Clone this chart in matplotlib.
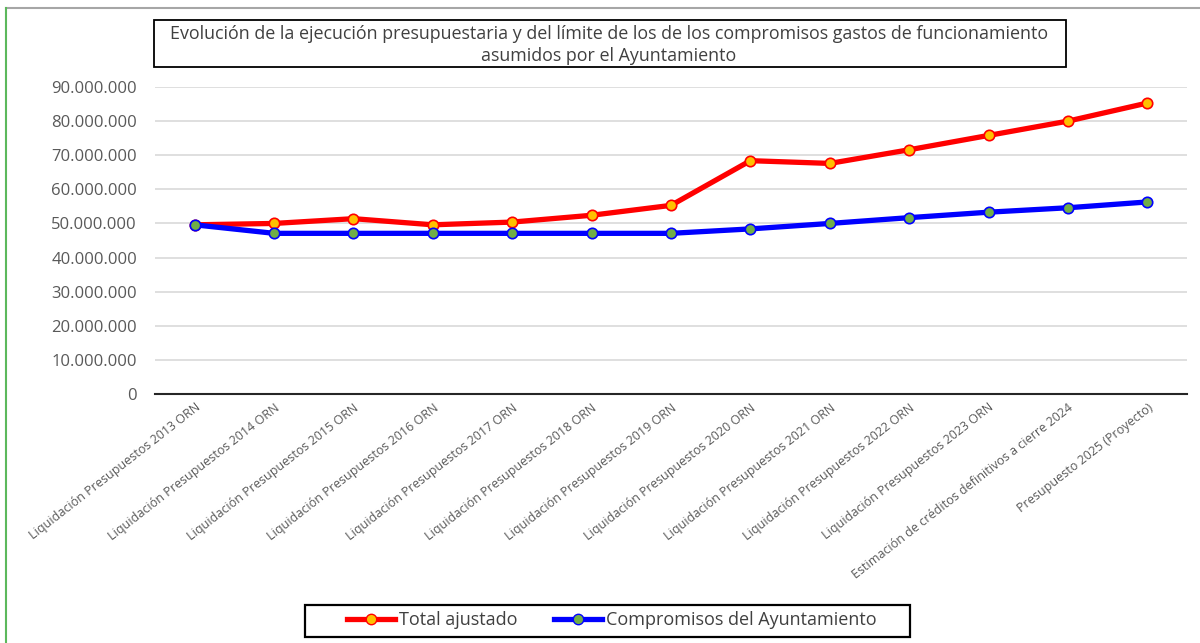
import matplotlib.pyplot as plt
from matplotlib.lines import Line2D
from matplotlib.patches import Rectangle
from matplotlib.ticker import FuncFormatter

FONT = ["Open Sans", "DejaVu Sans"]
TEXT_GREY = "#595959"

categories = [
    "Liquidación Presupuestos 2013 ORN",
    "Liquidación Presupuestos 2014 ORN",
    "Liquidación Presupuestos 2015 ORN",
    "Liquidación Presupuestos 2016 ORN",
    "Liquidación Presupuestos 2017 ORN",
    "Liquidación Presupuestos 2018 ORN",
    "Liquidación Presupuestos 2019 ORN",
    "Liquidación Presupuestos 2020 ORN",
    "Liquidación Presupuestos 2021 ORN",
    "Liquidación Presupuestos 2022 ORN",
    "Liquidación Presupuestos 2023 ORN",
    "Estimación de créditos definitivos a cierre 2024",
    "Presupuesto 2025 (Proyecto)",
]
total_ajustado = [
    49.6e6, 50.0e6, 51.4e6, 49.6e6, 50.4e6, 52.4e6, 55.3e6,
    68.4e6, 67.6e6, 71.6e6, 75.8e6, 80.0e6, 85.3e6,
]
compromisos = [
    49.6e6, 47.1e6, 47.1e6, 47.1e6, 47.1e6, 47.1e6, 47.1e6,
    48.4e6, 50.0e6, 51.7e6, 53.3e6, 54.6e6, 56.3e6,
]
title_text = ("Evolución de la ejecución presupuestaria y del límite de los de los "
              "compromisos gastos de funcionamiento\nasumidos por el Ayuntamiento")


def thousands(v, pos):
    return f"{int(v):,}".replace(",", ".")


def main() -> None:
    plt.rcParams["font.family"] = FONT
    fig = plt.figure(figsize=(12, 6.43), dpi=100)
    ax = fig.add_axes([155 / 1200, 1 - 394 / 643, (1187 - 155) / 1200, (394 - 87) / 643])

    x = list(range(len(categories)))
    ax.plot(x, total_ajustado, color="#FF0000", lw=3.8, marker="o", ms=7.5,
            mfc="#FFC000", mec="#FF0000", mew=1.2, label="Total ajustado", zorder=3)
    ax.plot(x, compromisos, color="#0000FF", lw=3.8, marker="o", ms=7.5,
            mfc="#70AD47", mec="#0000FF", mew=1.2, label="Compromisos del Ayuntamiento",
            zorder=3)

    ax.set_xlim(-0.5, len(categories) - 0.5)
    ax.set_ylim(0, 90e6)
    ax.set_yticks([i * 10e6 for i in range(10)])
    ax.yaxis.set_major_formatter(FuncFormatter(thousands))
    ax.grid(axis="y", color="#D9D9D9", lw=1.2)
    ax.set_axisbelow(True)
    for s in ["top", "right", "left"]:
        ax.spines[s].set_visible(False)
    ax.spines["bottom"].set_color("#262626")
    ax.spines["bottom"].set_linewidth(1.5)
    ax.tick_params(axis="y", length=0, labelsize=12, labelcolor=TEXT_GREY, pad=13)
    ax.tick_params(axis="x", length=0, pad=5)
    ax.set_xticks(x)
    ax.set_xticklabels(categories, rotation=38, ha="right", va="top",
                       rotation_mode="anchor", fontsize=9, color=TEXT_GREY)

    # title box
    fig.add_artist(Rectangle((154 / 1200, 1 - 67 / 643), (1066 - 154) / 1200, 47 / 643,
                             transform=fig.transFigure, fc="white", ec="black", lw=1.3))
    fig.text(609 / 1200, 1 - 45 / 643, title_text, ha="center", va="center",
             fontsize=12.9, color="#404040", linespacing=1.25)

    # legend with its own frame
    fig.add_artist(Rectangle((305 / 1200, 1 - 637 / 643), (910 - 305) / 1200, 32 / 643,
                             transform=fig.transFigure, fc="white", ec="black", lw=1.6))
    handles = [
        Line2D([], [], color="#FF0000", lw=3.8, marker="o", ms=7.5,
               mfc="#FFC000", mec="#FF0000"),
        Line2D([], [], color="#0000FF", lw=3.8, marker="o", ms=7.5,
               mfc="#70AD47", mec="#0000FF"),
    ]
    leg = fig.legend(handles, ["Total ajustado", "Compromisos del Ayuntamiento"],
                     loc="center", bbox_to_anchor=(612 / 1200, 1 - 620 / 643), ncol=2,
                     frameon=False, fontsize=13, handlelength=2.65,
                     handletextpad=0.25, columnspacing=2.0, borderaxespad=0)
    for t in leg.get_texts():
        t.set_color("#404040")

    # outer chart border fragments
    fig.add_artist(Line2D([6 / 1200, 1], [1 - 8 / 643, 1 - 8 / 643],
                          color="#A6A6A6", lw=1.5, transform=fig.transFigure))
    fig.add_artist(Line2D([6 / 1200, 6 / 1200], [0, 1 - 8 / 643],
                          color="#5CB85C", lw=1.5, transform=fig.transFigure))

    fig.savefig("out.png", dpi=100)


if __name__ == "__main__":
    main()
